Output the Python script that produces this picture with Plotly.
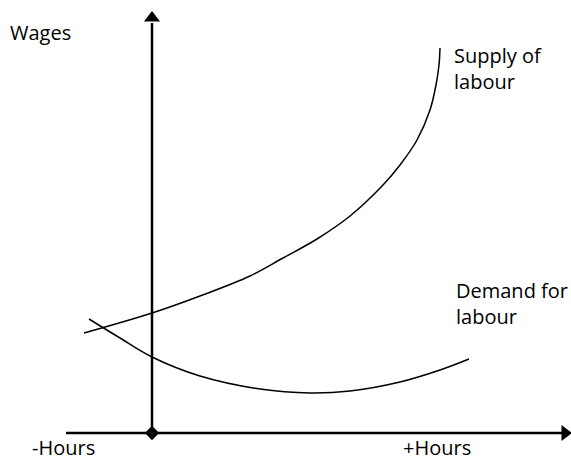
import plotly.graph_objects as go

# Schematic data: hours relative to origin (x) and wage level (y)
supply_hours = [-68, 0, 48, 98, 131, 165, 198, 231, 248, 265, 278, 284, 287, 288]
supply_wages = [100, 120, 137, 157, 175, 194, 217, 248, 268, 293, 323, 348, 368, 385]

demand_hours = [-63, -32, 0, 48, 108, 158, 198, 248, 288, 317]
demand_wages = [114, 95, 76, 57, 44, 40, 42, 51, 63, 74]

# axis extents
haxis_x = [-86, 410]
vaxis_y = [0, 410]

labels = ["Wages", "Supply of<br>labour", "Demand for<br>labour", "-Hours", "+Hours"]
label_x = [-144, 300, 302, -122, 249]
label_y = [401, 365, 130, -14, -14]

FONT = "Open Sans, Lato, sans-serif"
fig = go.Figure()

# axes
fig.add_trace(go.Scatter(x=haxis_x, y=[0, 0], mode="lines",
                         line=dict(color="black", width=2.5), hoverinfo="skip"))
fig.add_trace(go.Scatter(x=[0, 0], y=vaxis_y, mode="lines",
                         line=dict(color="black", width=2.5), hoverinfo="skip"))
# arrow heads
fig.add_trace(go.Scatter(x=[0], y=[415], mode="markers",
                         marker=dict(symbol="triangle-up", size=14, color="black"), hoverinfo="skip"))
fig.add_trace(go.Scatter(x=[413], y=[0], mode="markers",
                         marker=dict(symbol="triangle-right", size=14, color="black"), hoverinfo="skip"))
# origin diamond
fig.add_trace(go.Scatter(x=[0], y=[0], mode="markers",
                         marker=dict(symbol="diamond", size=11, color="black"), hoverinfo="skip"))

# curves
fig.add_trace(go.Scatter(x=supply_hours, y=supply_wages, mode="lines", line_shape="spline",
                         line=dict(color="black", width=1.5), name="Supply of labour"))
fig.add_trace(go.Scatter(x=demand_hours, y=demand_wages, mode="lines", line_shape="spline",
                         line=dict(color="black", width=1.5), name="Demand for labour"))

for t, x, y in zip(labels, label_x, label_y):
    fig.add_annotation(x=x, y=y, xref="x", yref="y", text=t, showarrow=False,
                       xanchor="left", yanchor="middle", align="left",
                       font=dict(family=FONT, size=20, color="black"))

fig.update_layout(
    width=571, height=460,
    margin=dict(l=0, r=0, t=0, b=0),
    paper_bgcolor="white", plot_bgcolor="white",
    showlegend=False,
    xaxis=dict(range=[-152, 419], visible=False, fixedrange=True),
    yaxis=dict(range=[-27, 433], visible=False, fixedrange=True),
)

fig.write_html("out.html", config={"displayModeBar": False},
               post_script="document.body.style.margin='0';document.body.style.overflow='hidden';")
